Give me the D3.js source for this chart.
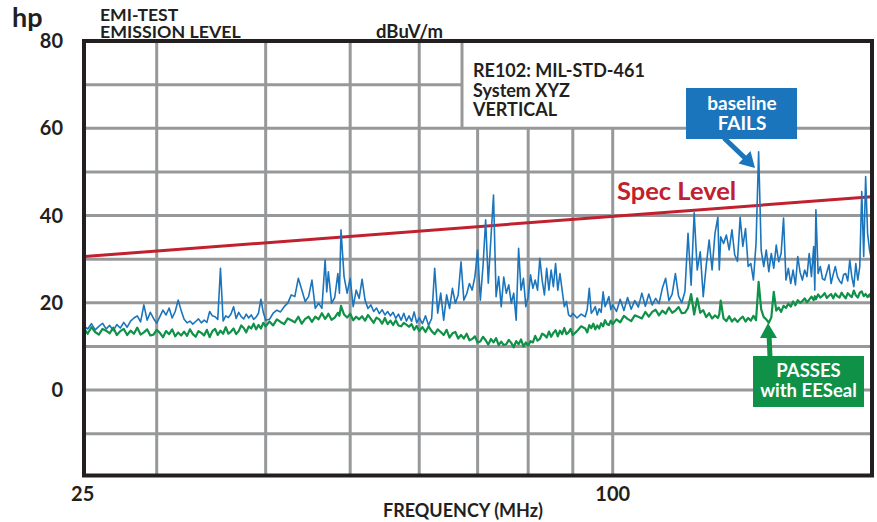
<!DOCTYPE html>
<html>
<head>
<meta charset="utf-8">
<script src="https://d3js.org/d3.v7.min.js"></script>
<style>
  body { margin: 0; background: #fff; }
  text { font-family: Lato, "Open Sans", sans-serif; font-weight: 700; fill: #231f20; }
</style>
</head>
<body>
<svg id="viz" width="877" height="522"></svg>
<script>
// sweep frequencies in MHz
var freq = [
  24.8, 25, 25.25, 25.5, 25.75, 26, 26.25, 26.5, 26.75, 27,
  27.25, 27.5, 27.75, 28, 28.25, 28.5, 28.75, 29, 29.25, 29.5,
  29.75, 30, 30.25, 30.5, 30.75, 31, 31.25, 31.5, 31.75, 32,
  32.25, 32.5, 32.75, 33, 33.25, 33.5, 33.75, 34, 34.25, 34.5,
  34.75, 35, 35.25, 35.5, 35.75, 36, 36.25, 36.5, 36.75, 37,
  37.25, 37.5, 37.75, 38, 38.25, 38.5, 38.75, 39, 39.25, 39.5,
  39.75, 40,
  40.4, 40.8, 41.2, 41.6, 42, 42.4, 42.8, 43.2, 43.6, 44,
  44.4, 44.8, 45.2, 45.6, 46, 46.4, 46.8, 47, 47.2, 47.6,
  48, 48.4, 48.6, 48.8, 49.2, 49.6, 50, 50.4, 50.8, 51.2,
  51.6, 52, 52.4, 52.8, 53.2, 53.6, 54, 54.4, 54.8, 55.2,
  55.6, 56, 56.4, 56.8, 57.2, 57.6, 58, 58.4, 58.8, 59.2,
  59.6, 60,
  60.5, 61, 61.5, 62, 62.5, 63, 63.5, 64, 64.5, 65,
  65.5, 66, 66.5, 67, 67.5, 68, 68.5, 69, 69.5, 70,
  70.5, 71, 71.5, 72, 72.5, 73, 73.5, 74, 74.5, 75,
  75.5, 76, 76.5, 77, 77.5, 78, 78.5, 79, 79.5, 80,
  80.5, 81, 81.5, 82, 82.5, 83, 83.5, 84, 84.5, 85,
  85.5, 86, 86.5, 87, 87.5, 88, 88.5, 89, 89.5, 90,
  91, 92, 93, 93.5, 94, 94.5, 95, 95.5, 96, 96.5,
  97, 97.5, 98, 98.5, 99, 99.5, 100,
  101, 102, 103, 104, 105, 106, 107, 108, 109, 110,
  111, 112, 113, 114, 115, 116, 117, 118, 119, 120,
  121, 122, 123, 124, 125, 126, 127, 128, 129, 130,
  131, 132, 132.5, 133, 134, 135, 136, 137, 138, 139,
  140, 141, 142, 143, 144, 145, 146, 147, 148, 149,
  150, 151, 152, 153, 154, 155, 156, 157, 158, 159,
  160, 161, 162, 163, 164, 165, 166, 167, 168, 169,
  170, 170.5, 171, 172, 173, 174, 175, 176, 177, 178,
  179, 180, 181, 182, 183, 184, 185, 186, 187, 188,
  189, 190, 191, 192, 193, 194, 195, 196, 197, 198
];

// baseline scan, dBuV/m (blue)
var baseline = [
  14.5, 14.0, 15.2, 13.8, 14.6, 15.3, 14.0, 14.8, 13.6, 15.0,
  14.2, 15.5, 14.4, 15.8, 16.5, 17.0, 15.6, 19.5, 16.0, 17.8,
  16.4, 15.3, 16.8, 18.3, 17.2, 18.8, 16.5, 18.0, 20.6, 18.2,
  16.2, 15.4, 15.8, 15.1, 15.7, 16.3, 15.4, 16.0, 15.5, 18.0,
  17.0, 16.8, 16.2, 27.9, 15.8, 17.0, 16.6, 17.4, 19.1, 16.4,
  17.8, 16.8, 16.3, 17.4, 16.5, 17.2, 16.2, 16.7, 17.6, 20.8,
  17.8, 16.0,
  16.2, 17.6, 18.3, 17.9, 19.1, 19.9, 21.8, 21.4, 25.6, 23.0,
  20.3, 21.4, 25.2, 18.7, 19.9, 18.7, 29.8, 22.5, 27.1, 19.9,
  21.2, 26.7, 22.2, 36.7, 26.0, 22.2, 25.6, 19.1, 22.9, 21.0,
  25.4, 20.6, 18.7, 19.5, 18.0, 18.8, 17.5, 18.4, 17.2, 18.0,
  17.0, 17.8, 16.4, 17.4, 16.0, 17.6, 15.8, 17.0, 15.7, 17.9,
  15.4, 16.6,
  15.2, 17.0, 14.8, 16.4, 27.9, 17.6, 22.2, 16.0, 21.8, 18.7,
  23.3, 19.9, 21.8, 29.4, 20.6, 22.0, 24.4, 22.9, 26.0, 32.1,
  20.6, 28.3, 39.0, 24.5, 34.8, 44.7, 21.4, 26.0, 19.1, 25.9,
  22.2, 24.1, 19.9, 22.2, 16.0, 32.5, 22.9, 25.6, 19.1, 21.4,
  26.4, 23.3, 25.2, 22.9, 30.2, 25.2, 21.8, 27.9, 22.9, 27.5,
  23.7, 29.0, 22.9, 26.7, 22.9, 19.1, 20.3, 17.2, 16.8, 17.6,
  16.5, 17.4, 16.8, 18.5, 23.3, 17.6, 18.2, 19.1, 17.2, 18.6,
  17.8, 22.5, 19.1, 20.2, 21.4, 18.4, 19.5,
  18.0, 20.8, 18.2, 21.2, 18.5, 20.5, 19.0, 22.2, 19.2, 22.0,
  19.5, 21.0, 19.8, 23.3, 25.6, 20.5, 22.0, 26.7, 21.5, 20.0,
  22.5, 35.9, 24.0, 40.6, 27.5, 31.7, 21.4, 28.5, 34.4, 27.5,
  35.9, 39.6, 27.5, 35.1, 33.6, 35.5, 32.1, 36.7, 31.0, 29.5,
  39.6, 32.9, 37.0, 28.3, 29.0, 25.2, 33.6, 54.6, 32.0, 28.3,
  32.1, 27.1, 31.3, 27.9, 33.2, 29.4, 31.3, 39.4, 25.2, 27.9,
  24.4, 27.5, 24.1, 30.6, 27.0, 25.2, 27.5, 26.0, 31.3, 26.0,
  32.9, 22.9, 41.3, 26.7, 28.3, 25.5, 25.2, 27.0, 28.7, 24.4,
  26.5, 28.3, 26.0, 25.0, 24.4, 26.5, 26.7, 25.0, 29.8, 26.0,
  23.7, 29.0, 25.2, 28.3, 45.5, 30.6, 48.9, 35.9, 32.1, 30.0
];

// same scan with EESeal fitted, dBuV/m (green)
var eeseal = [
  13.9, 12.9, 14.4, 13.3, 12.7, 14.0, 13.6, 13.0, 14.3, 12.6,
  13.5, 14.0, 12.6, 13.6, 12.9, 14.3, 12.7, 13.2, 13.9, 12.5,
  12.7, 13.8, 13.1, 12.1, 13.5, 12.8, 13.9, 12.3, 13.2, 12.5,
  13.4, 12.4, 13.9, 12.8, 12.2, 13.5, 13.1, 12.5, 13.8, 12.1,
  13.5, 14.0, 12.6, 13.6, 12.9, 14.4, 12.9, 13.4, 14.1, 12.8,
  13.5, 14.8, 14.2, 13.2, 14.6, 14.1, 15.2, 13.9, 14.9, 14.1,
  15.4, 14.6,
  15.7, 14.8, 16.2, 15.6, 15.1, 16.4, 16.0, 15.5, 16.8, 15.2,
  16.3, 16.8, 15.6, 16.8, 16.2, 17.6, 16.3, 16.8, 17.5, 16.1,
  16.6, 17.7, 17.0, 19.3, 17.3, 16.6, 17.5, 16.0, 16.8, 16.2,
  16.9, 15.9, 17.2, 16.3, 15.4, 16.6, 16.2, 15.2, 16.5, 15.1,
  15.9, 14.9, 16.0, 14.8, 14.6, 15.4, 15.0, 14.5, 15.1, 13.8,
  14.7, 13.5,
  14.4, 13.3, 14.6, 13.5, 12.8, 13.9, 13.3, 12.6, 13.8, 12.0,
  13.0, 13.3, 11.8, 12.6, 11.8, 12.9, 11.4, 11.7, 12.3, 10.9,
  11.1, 12.2, 11.4, 10.4, 11.7, 10.9, 11.9, 10.3, 11.1, 10.3,
  10.5, 11.5, 10.8, 9.8, 11.2, 10.5, 11.6, 10.0, 10.9, 10.2,
  11.2, 10.9, 12.4, 11.3, 11.7, 12.9, 12.6, 12.0, 13.4, 12.2,
  13.1, 13.7, 12.3, 13.6, 12.8, 14.2, 12.8, 13.2, 14.0, 12.6,
  13.5, 14.6, 14.1, 13.2, 14.9, 14.2, 15.2, 13.9, 14.8, 14.1,
  15.3, 14.6, 16.0, 15.1, 14.9, 15.9, 15.1,
  16.2, 15.5, 17.0, 16.3, 15.8, 17.1, 16.8, 16.4, 17.9, 16.8,
  17.9, 18.4, 17.1, 18.2, 17.5, 18.9, 17.7, 18.2, 19.0, 17.6,
  17.7, 18.8, 22.0, 17.3, 21.0, 17.7, 18.3, 16.7, 17.6, 16.4,
  17.1, 16.5, 17.3, 20.5, 16.4, 15.8, 16.9, 15.7, 16.4, 15.6,
  16.3, 16.8, 15.7, 16.5, 15.9, 17.0, 16.0, 24.8, 18.5, 16.7,
  16.2, 15.4, 16.6, 22.5, 18.2, 18.9, 17.9, 19.3, 18.8, 19.8,
  19.1, 20.3, 19.4, 20.6, 20.0, 20.4, 21.0, 20.1, 20.7, 21.4,
  20.6, 21.5, 20.8, 21.9, 21.2, 21.6, 22.2, 21.1, 21.6, 22.0,
  21.0, 22.1, 21.5, 21.2, 22.3, 21.6, 21.0, 22.2, 21.7, 21.3,
  22.8, 21.7, 21.2, 22.3, 22.6, 21.5, 22.0, 21.3, 21.9, 20.9
];

// RE102 limit line
var specFreq = [24.8, 198];
var specLevel = [30.6, 44.3];

var yTicks = [0, 20, 40, 60, 80];
var yGrid = [-10, 0, 10, 20, 30, 40, 50, 60, 70];
var xTicks = [25, 100];
var xGrid = [30, 40, 50, 60, 70, 80, 90, 100];

var svg = d3.select("#viz");
var left = 84, right = 872, plotTop = 41, bottom = 475.5;
var boxLeft = 462;

var x = d3.scaleLog().domain([24.76, 198.3]).range([left, right]);
var y = d3.scaleLinear().domain([-20, 80]).range([477.25, plotTop]);

svg.append("rect").attr("width", 877).attr("height", 522).attr("fill", "#fff");

svg.append("clipPath").attr("id", "plot")
  .append("rect").attr("x", left).attr("y", plotTop)
  .attr("width", right - left).attr("height", bottom - plotTop);

// grid
var grid = svg.append("g").attr("stroke", "#96989a").attr("stroke-width", 3);
grid.selectAll("line.h").data(yGrid).enter().append("line").attr("class", "h")
  .attr("x1", left)
  .attr("x2", function(d) { return d > 60 ? boxLeft : right; })
  .attr("y1", function(d) { return y(d); })
  .attr("y2", function(d) { return y(d); });
grid.selectAll("line.v").data(xGrid).enter().append("line").attr("class", "v")
  .attr("x1", function(d) { return x(d); })
  .attr("x2", function(d) { return x(d); })
  .attr("y1", bottom)
  .attr("y2", function(d) { return x(d) > boxLeft ? y(60) : plotTop; });
grid.append("line")
  .attr("x1", boxLeft).attr("x2", boxLeft)
  .attr("y1", plotTop).attr("y2", y(60));

var line = d3.line()
  .x(function(d) { return x(d[0]); })
  .y(function(d) { return y(d[1]); });

var plot = svg.append("g").attr("clip-path", "url(#plot)");
plot.append("path").datum(d3.zip(specFreq, specLevel))
  .attr("d", line).attr("fill", "none")
  .attr("stroke", "#c1202f").attr("stroke-width", 3);
plot.append("path").datum(d3.zip(freq, baseline))
  .attr("d", line).attr("fill", "none")
  .attr("stroke", "#1b75bc").attr("stroke-width", 1.6).attr("stroke-linejoin", "round");
plot.append("path").datum(d3.zip(freq, eeseal))
  .attr("d", line).attr("fill", "none")
  .attr("stroke", "#0f9147").attr("stroke-width", 2.2).attr("stroke-linejoin", "round");

// frame
svg.append("rect")
  .attr("x", left).attr("y", plotTop)
  .attr("width", right - left).attr("height", bottom - plotTop)
  .attr("fill", "none").attr("stroke", "#231f20").attr("stroke-width", 4);

// tick labels
svg.selectAll("text.yt").data(yTicks).enter().append("text").attr("class", "yt")
  .attr("x", 63).attr("y", function(d) { return y(d); })
  .attr("dy", "0.36em").attr("text-anchor", "end")
  .style("font-size", "20px").text(function(d) { return d; });
svg.selectAll("text.xt").data(xTicks).enter().append("text").attr("class", "xt")
  .attr("x", function(d, i) { return x(d) - (i === 0 ? 5 : 0); })
  .attr("y", 501).attr("text-anchor", "middle")
  .style("font-size", "20px").text(function(d) { return d; });

svg.append("text").attr("x", 12).attr("y", 26.5).style("font-size", "27px").text("hp");
svg.append("text").attr("x", 100).attr("y", 20.5).style("font-size", "17.6px").text("EMI-TEST");
svg.append("text").attr("x", 100).attr("y", 38).style("font-size", "17.8px").text("EMISSION LEVEL");
svg.append("text").attr("x", 376).attr("y", 38).style("font-size", "18.5px").text("dBuV/m");
svg.append("text").attr("x", 463).attr("y", 517).attr("text-anchor", "middle")
  .style("font-size", "18px").text("FREQUENCY (MHz)");

var info = ["RE102: MIL-STD-461", "System XYZ", "VERTICAL"];
svg.selectAll("text.info").data(info).enter().append("text").attr("class", "info")
  .attr("x", 473).attr("y", function(d, i) { return 77 + i * 19.5; })
  .style("font-size", "18px").text(function(d) { return d; });

svg.append("text").attr("x", 617).attr("y", 200)
  .style("font-size", "25.5px").style("fill", "#c1202f").text("Spec Level");

// callouts
var blue = "#1b75bc", green = "#0f9147";
svg.append("line").attr("x1", 724).attr("y1", 138).attr("x2", 745).attr("y2", 158)
  .attr("stroke", blue).attr("stroke-width", 5);
svg.append("path").attr("d", "M755,168 L738.5,163.5 L750.5,151 Z").attr("fill", blue);
svg.append("rect").attr("x", 686).attr("y", 88).attr("width", 111).attr("height", 51).attr("fill", blue);
svg.append("text").attr("x", 742).attr("y", 110).attr("text-anchor", "middle")
  .style("font-size", "19px").style("fill", "#fff").text("baseline");
svg.append("text").attr("x", 742).attr("y", 130).attr("text-anchor", "middle")
  .style("font-size", "19px").style("fill", "#fff").text("FAILS");

svg.append("line").attr("x1", 770).attr("y1", 357).attr("x2", 769).attr("y2", 334)
  .attr("stroke", green).attr("stroke-width", 5);
svg.append("path").attr("d", "M768,323 L760,338 L777,338 Z").attr("fill", green);
svg.append("rect").attr("x", 753).attr("y", 356).attr("width", 111).attr("height", 51).attr("fill", green);
svg.append("text").attr("x", 808.5).attr("y", 377).attr("text-anchor", "middle")
  .style("font-size", "18.5px").style("fill", "#fff").text("PASSES");
svg.append("text").attr("x", 808.5).attr("y", 397).attr("text-anchor", "middle")
  .style("font-size", "18.5px").style("fill", "#fff").text("with EESeal");
</script>
</body>
</html>
